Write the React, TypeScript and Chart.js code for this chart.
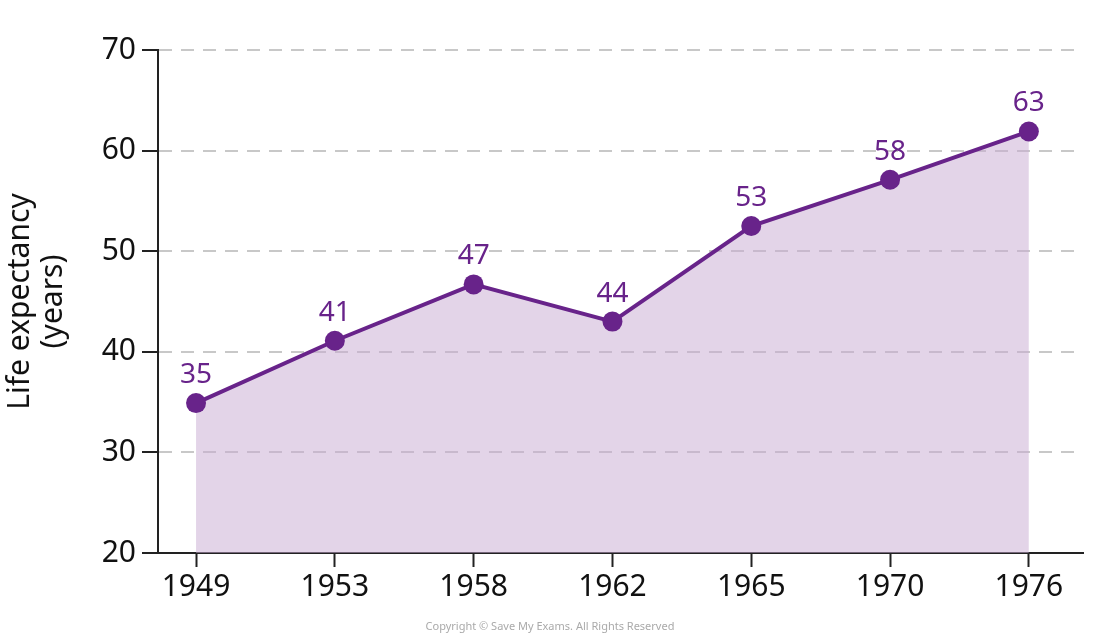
import React, { useEffect, useRef } from "react";
import { Chart, registerables } from "chart.js";

Chart.register(...registerables);

// categories (years) and plotted values
const years = ["1949", "1953", "1958", "1962", "1965", "1970", "1976"];
const lifeExpectancy = [34.9, 41.1, 46.7, 43.0, 52.5, 57.1, 61.9];
const pointLabels = ["35", "41", "47", "44", "53", "58", "63"];
const yTicks = [20, 30, 40, 50, 60, 70];

const PURPLE = "#68238a";
const FONT = "'Noto Sans', sans-serif";

const pointLabelPlugin = {
  id: "pointLabels",
  afterDatasetsDraw(chart: any) {
    const ctx = chart.ctx;
    const meta = chart.getDatasetMeta(0);
    ctx.save();
    ctx.fillStyle = PURPLE;
    ctx.font = `28px ${FONT}`;
    ctx.textAlign = "center";
    ctx.textBaseline = "middle";
    meta.data.forEach((pt: any, i: number) => {
      ctx.fillText(pointLabels[i], pt.x, pt.y - 28);
    });
    ctx.restore();
  },
};

export default function App() {
  const canvasRef = useRef<HTMLCanvasElement | null>(null);

  useEffect(() => {
    if (!canvasRef.current) return;

    const chart = new Chart(canvasRef.current, {
      type: "line",
      data: {
        datasets: [
          {
            data: lifeExpectancy.map((v, i) => ({ x: i, y: v })),
            borderColor: PURPLE,
            borderWidth: 4,
            backgroundColor: "rgba(200, 170, 210, 0.5)",
            fill: "start",
            pointRadius: 10,
            pointBackgroundColor: PURPLE,
            pointBorderColor: PURPLE,
            pointBorderWidth: 0,
            tension: 0,
          },
        ],
      },
      options: {
        animation: false,
        responsive: true,
        maintainAspectRatio: false,
        layout: { padding: { top: 50, right: 17, left: 0, bottom: 0 } },
        plugins: {
          legend: { display: false },
          tooltip: { enabled: false },
        },
        scales: {
          x: {
            type: "linear",
            min: -0.274,
            max: 6.39,
            afterBuildTicks: (s: any) => {
              s.ticks = years.map((_, i) => ({ value: i }));
            },
            afterFit: (s: any) => {
              s.height = 86;
            },
            ticks: {
              callback: (v: any) => years[v] ?? "",
              color: "#111",
              font: { family: FONT, size: 30 },
              padding: 2,
              maxRotation: 0,
            },
            grid: {
              drawOnChartArea: false,
              drawTicks: true,
              tickLength: 14,
              tickColor: "#222",
              tickWidth: 2,
            },
            border: { color: "#222", width: 2 },
          },
          y: {
            min: 20,
            max: 70,
            afterBuildTicks: (s: any) => {
              s.ticks = yTicks.map((v) => ({ value: v }));
            },
            afterFit: (s: any) => {
              s.width = 158;
            },
            ticks: {
              color: "#111",
              font: { family: FONT, size: 30 },
              padding: 6,
            },
            grid: {
              color: "#c8c8c8",
              lineWidth: 2,
              drawTicks: true,
              tickLength: 16,
              tickColor: "#222",
              tickWidth: 2,
            },
            border: { color: "#222", width: 2, dash: [13, 9] },
            title: {
              display: true,
              text: ["Life expectancy", "(years)"],
              color: "#111",
              font: { family: FONT, size: 30, lineHeight: 1.1 },
              padding: { top: 4, bottom: 0 },
            },
          },
        },
      },
      plugins: [pointLabelPlugin],
    });

    return () => chart.destroy();
  }, []);

  return (
    <div style={{ position: "fixed", left: 0, top: 0, width: 1100, height: 639, background: "#fff" }}>
      <canvas ref={canvasRef} />
      <div
        style={{
          position: "absolute",
          left: 0,
          width: 1100,
          top: 618,
          textAlign: "center",
          fontFamily: FONT,
          fontSize: 11,
          color: "#aaa",
        }}
      >
        Copyright © Save My Exams. All Rights Reserved
      </div>
    </div>
  );
}
